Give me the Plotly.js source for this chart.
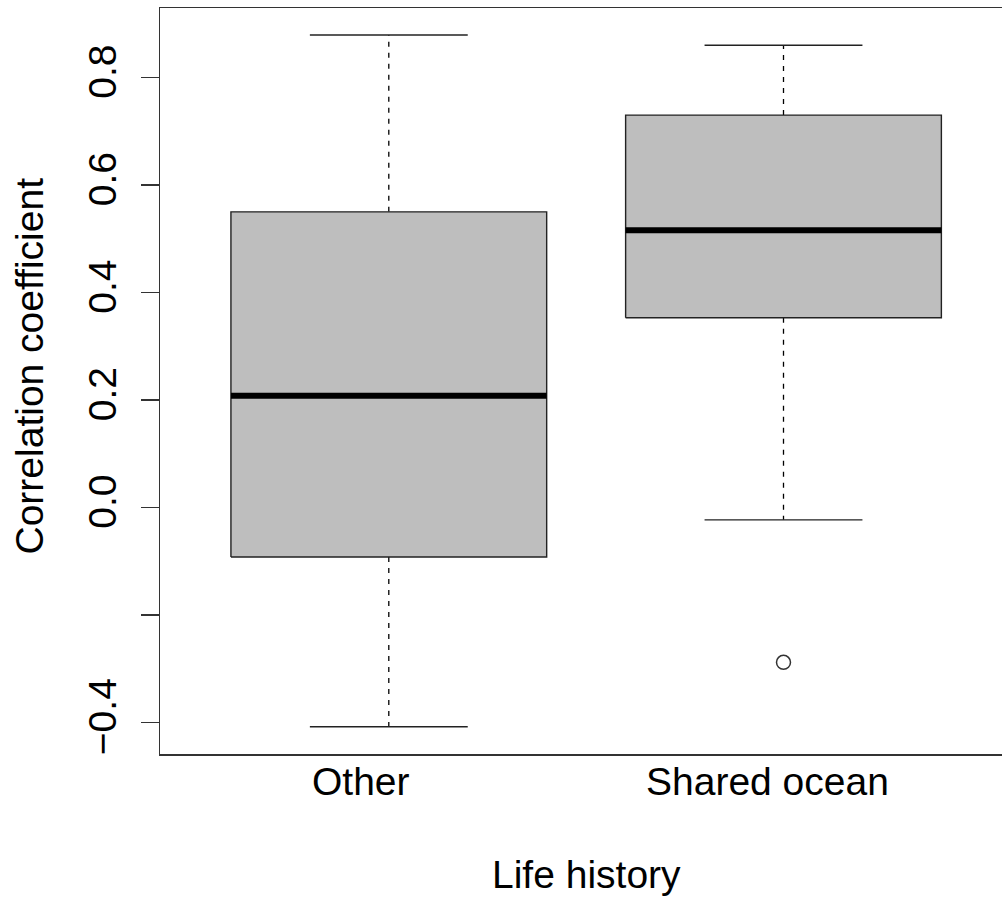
<!DOCTYPE html>
<html>
<head>
<meta charset="utf-8">
<script src="https://cdn.plot.ly/plotly-3.0.1.min.js"></script>
<style>
  html, body { margin: 0; padding: 0; background: #fff; overflow: hidden; }
  #chart { width: 1002px; height: 900px; }
</style>
</head>
<body>
<div id="chart"></div>
<script>
// ---- data ----
const categories = ['Other', 'Shared ocean'];
const lowerWhisker = [-0.408, -0.023];
const q1 = [-0.092, 0.353];
const median = [0.208, 0.516];
const q3 = [0.550, 0.730];
const upperWhisker = [0.879, 0.860];
const outlierCategory = ['Shared ocean'];
const outlierValue = [-0.288];
const yTickValues = [-0.4, -0.2, 0.0, 0.2, 0.4, 0.6, 0.8];
const yTickLabels = ['\u22120.4', '', '0.0', '0.2', '0.4', '0.6', '0.8'];
const xTitle = 'Life history';
const yTitle = 'Correlation coefficient';

// ---- styling constants ----
const HALF_BOX = 0.4, HALF_STAPLE = 0.2;
const FONT = 'Liberation Sans, Arial, sans-serif';
const LINE = '#222';
const labelShift = [-28, -16];

const pos = categories.map((c, i) => i + 1);
const catPos = c => categories.indexOf(c) + 1;

const boxX = [], boxY = [], medX = [], medY = [], whX = [], whY = [], stX = [], stY = [];
pos.forEach((p, i) => {
  boxX.push(p - HALF_BOX, p + HALF_BOX, p + HALF_BOX, p - HALF_BOX, p - HALF_BOX, null);
  boxY.push(q1[i], q1[i], q3[i], q3[i], q1[i], null);
  medX.push(p - HALF_BOX, p + HALF_BOX, null);
  medY.push(median[i], median[i], null);
  whX.push(p, p, null, p, p, null);
  whY.push(q3[i], upperWhisker[i], null, q1[i], lowerWhisker[i], null);
  stX.push(p - HALF_STAPLE, p + HALF_STAPLE, null, p - HALF_STAPLE, p + HALF_STAPLE, null);
  stY.push(upperWhisker[i], upperWhisker[i], null, lowerWhisker[i], lowerWhisker[i], null);
});

const traces = [
  { type: 'scatter', mode: 'lines', x: whX, y: whY, line: { color: '#000', width: 1.3, dash: '5px,6px' }, hoverinfo: 'skip' },
  { type: 'scatter', mode: 'lines', x: stX, y: stY, line: { color: LINE, width: 1.4 }, hoverinfo: 'skip' },
  { type: 'scatter', mode: 'lines', x: boxX, y: boxY, fill: 'toself', fillcolor: '#BEBEBE', line: { color: LINE, width: 1.4 }, hoverinfo: 'skip' },
  { type: 'scatter', mode: 'lines', x: medX, y: medY, line: { color: '#000', width: 6 }, hoverinfo: 'skip' },
  { type: 'scatter', mode: 'markers', x: outlierCategory.map(catPos), y: outlierValue,
    marker: { symbol: 'circle-open', size: 14, color: '#333', line: { width: 1.5, color: '#333' } }, hoverinfo: 'skip' }
];

const annotations = categories.map((c, i) => ({
  text: c, x: pos[i], xref: 'x', y: 0, yref: 'paper', yanchor: 'top', xanchor: 'center',
  xshift: labelShift[i], yshift: -4, showarrow: false, font: { family: FONT, size: 39, color: '#000' }
}));
annotations.push({
  text: xTitle, x: 0.507, xref: 'paper', y: -0.130, yref: 'paper', xanchor: 'center', yanchor: 'top',
  showarrow: false, font: { family: FONT, size: 39, color: '#000' }
});
annotations.push({
  text: yTitle, x: -0.155, xref: 'paper', y: 0.5201, yref: 'paper', xanchor: 'center', yanchor: 'middle',
  textangle: -90, showarrow: false, font: { family: FONT, size: 39, color: '#000' }
});

const layout = {
  width: 1002, height: 900,
  margin: { l: 160, r: 0, t: 8, b: 146 },
  paper_bgcolor: '#fff', plot_bgcolor: '#fff',
  showlegend: false,
  font: { family: FONT, size: 39, color: '#000' },
  xaxis: {
    range: [0.4203, 2.5536], showgrid: false, zeroline: false,
    showline: true, mirror: true, linecolor: '#333', linewidth: 1.5,
    showticklabels: false, ticks: ''
  },
  yaxis: {
    range: [-0.4586, 0.9293], showgrid: false, zeroline: false,
    showline: true, mirror: false, linecolor: '#333', linewidth: 1.5,
    tickmode: 'array', tickvals: yTickValues, ticktext: yTickLabels,
    ticks: 'outside', ticklen: 18, tickwidth: 1.5, tickcolor: '#333',
    ticklabelstandoff: 9,
    tickangle: -90, tickfont: { family: FONT, size: 39, color: '#000' }
  },
  annotations: annotations
};

Plotly.newPlot('chart', traces, layout, { staticPlot: true, displayModeBar: false });
</script>
</body>
</html>
